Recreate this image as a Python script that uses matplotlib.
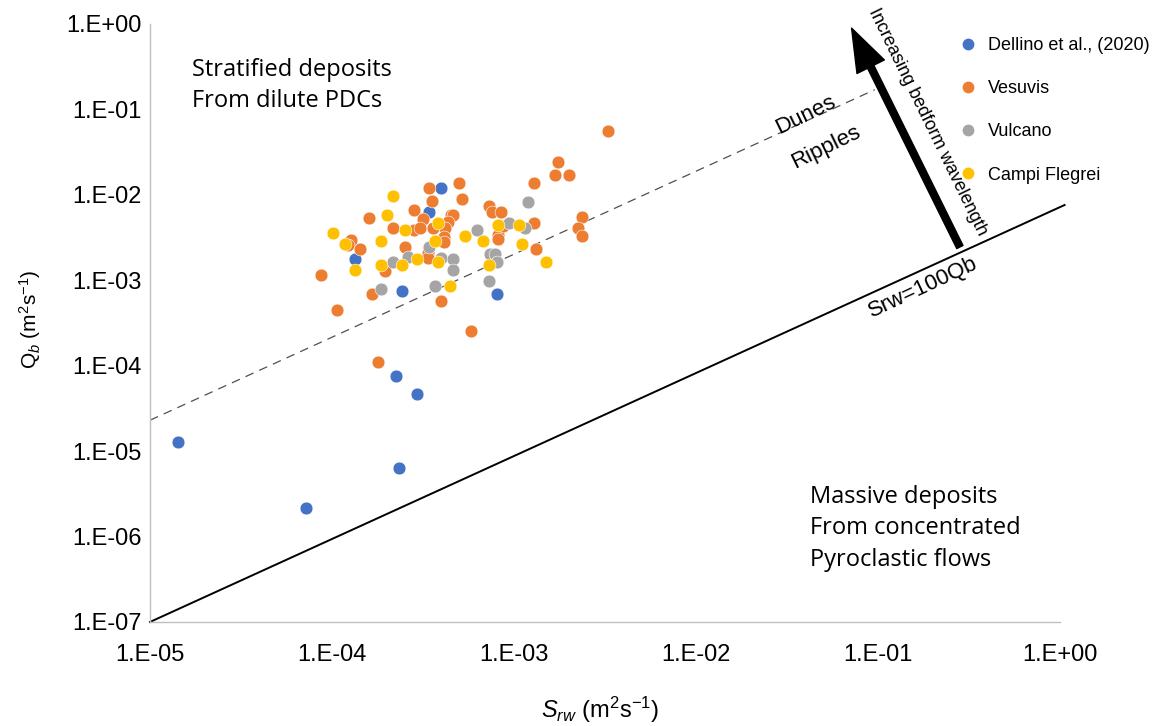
import matplotlib
matplotlib.use("Agg")
import matplotlib.pyplot as plt
from matplotlib.lines import Line2D

plt.rcParams["font.family"] = ["Liberation Sans", "DejaVu Sans"]
plt.rcParams["mathtext.fontset"] = "custom"
plt.rcParams["mathtext.rm"] = "Liberation Sans"
plt.rcParams["mathtext.it"] = "Liberation Sans:italic"

# data (Srw, Qb in m2 s-1)
dellino_srw = [3.97e-4, 3.43e-4, 1.33e-4, 2.43e-4, 8.1e-4, 2.25e-4, 2.92e-4, 1.42e-5, 2.34e-4, 7.2e-5]
dellino_qb = [1.20e-2, 6.37e-3, 1.78e-3, 7.5e-4, 6.98e-4, 7.6e-5, 4.63e-5, 1.28e-5, 6.3e-6, 2.18e-6]

vesuvis_srw = [3.30e-3, 1.74e-3, 1.68e-3, 2.01e-3, 1.29e-3, 4.99e-4, 3.41e-4, 5.18e-4, 3.56e-4, 2.83e-4,
               7.26e-4, 7.53e-4, 8.49e-4, 1.60e-4, 4.49e-4, 4.63e-4, 3.18e-4, 4.32e-4, 2.36e-3, 1.28e-3,
               2.17e-4, 2.83e-4, 3.05e-4, 3.61e-4, 4.18e-4, 4.14e-4, 4.14e-4, 2.26e-3, 2.36e-3, 8.20e-4,
               8.20e-4, 1.27e-4, 1.22e-4, 1.43e-4, 2.52e-4, 3.38e-4, 3.38e-4, 1.32e-3, 1.95e-4, 8.71e-5,
               1.66e-4, 3.97e-4, 1.06e-4, 5.81e-4, 1.79e-4, 8.73e-4]
vesuvis_qb = [5.66e-2, 2.43e-2, 1.70e-2, 1.70e-2, 1.38e-2, 1.38e-2, 1.20e-2, 8.97e-3, 8.43e-3, 6.73e-3,
              7.30e-3, 6.37e-3, 6.37e-3, 5.42e-3, 5.83e-3, 5.83e-3, 5.19e-3, 4.86e-3, 5.48e-3, 4.74e-3,
              4.07e-3, 3.89e-3, 4.07e-3, 4.07e-3, 4.07e-3, 3.25e-3, 2.84e-3, 4.14e-3, 3.31e-3, 3.40e-3,
              3.03e-3, 2.97e-3, 2.60e-3, 2.33e-3, 2.48e-3, 2.07e-3, 1.82e-3, 2.33e-3, 1.30e-3, 1.14e-3,
              6.93e-4, 5.64e-4, 4.54e-4, 2.55e-4, 1.09e-4, 4.34e-3]

vulcano_srw = [1.19e-3, 9.42e-4, 1.15e-3, 6.27e-4, 3.41e-4, 2.17e-4, 2.60e-4, 3.97e-4, 4.62e-4, 4.62e-4,
               7.38e-4, 7.87e-4, 8.1e-4, 7.29e-4, 1.87e-4, 3.68e-4]
vulcano_qb = [8.35e-3, 4.74e-3, 4.07e-3, 3.86e-3, 2.48e-3, 1.63e-3, 1.89e-3, 1.82e-3, 1.78e-3, 1.32e-3,
              2.02e-3, 2.02e-3, 1.63e-3, 9.9e-4, 8.0e-4, 8.67e-4]

campi_srw = [2.17e-4, 2.01e-4, 1.01e-4, 2.52e-4, 3.81e-4, 8.17e-4, 1.06e-3, 1.18e-4, 1.86e-4, 3.68e-4,
             5.36e-4, 6.73e-4, 1.10e-3, 1.33e-4, 1.86e-4, 2.43e-4, 2.93e-4, 3.82e-4, 7.29e-4, 1.49e-3,
             4.44e-4]
campi_qb = [9.66e-3, 5.83e-3, 3.56e-3, 3.86e-3, 4.74e-3, 4.42e-3, 4.42e-3, 2.69e-3, 2.89e-3, 2.89e-3,
            3.33e-3, 2.89e-3, 2.69e-3, 1.32e-3, 1.51e-3, 1.51e-3, 1.77e-3, 1.63e-3, 1.51e-3, 1.63e-3,
            8.59e-4]

# regime boundaries
dune_line_srw = [1e-5, 9.6e-2]
dune_line_qb = [2.3e-5, 1.7e-1]
massive_line_srw = [1e-5, 1.06]
massive_line_qb = [1e-7, 7.6e-3]

series = [
    ("Dellino et al., (2020)", dellino_srw, dellino_qb, "#4472C4"),
    ("Vesuvis", vesuvis_srw, vesuvis_qb, "#ED7D31"),
    ("Vulcano", vulcano_srw, vulcano_qb, "#A5A5A5"),
    ("Campi Flegrei", campi_srw, campi_qb, "#FFC000"),
]
x_ticks = [1e-5, 1e-4, 1e-3, 1e-2, 1e-1, 1e0]
x_labels = ["1.E-05", "1.E-04", "1.E-03", "1.E-02", "1.E-01", "1.E+00"]
y_ticks = [1e-7, 1e-6, 1e-5, 1e-4, 1e-3, 1e-2, 1e-1, 1e0]
y_labels = ["1.E-07", "1.E-06", "1.E-05", "1.E-04", "1.E-03", "1.E-02", "1.E-01", "1.E+00"]

fig = plt.figure(figsize=(11.62, 7.26), dpi=100)
ax = fig.add_axes([0.1291, 0.1433, 0.7831, 0.8237])
ax.set_xscale("log")
ax.set_yscale("log")
ax.set_xlim(1e-5, 1e0)
ax.set_ylim(1e-7, 1e0)

ax.plot(dune_line_srw, dune_line_qb, color="#505050", lw=0.9, dashes=(7, 5), zorder=2)
ax.plot(massive_line_srw, massive_line_qb, color="black", lw=1.4, clip_on=False, zorder=2)

handles = []
for name, xs, ys, col in series:
    ax.scatter(xs, ys, s=85, color=col, edgecolors="white", linewidths=0.4, zorder=3)
    handles.append(Line2D([], [], marker="o", ls="none", markersize=9.5,
                          markerfacecolor=col, markeredgecolor="white", label=name))

ax.set_xticks(x_ticks)
ax.set_xticklabels(x_labels)
ax.set_yticks(y_ticks)
ax.set_yticklabels(y_labels)
ax.minorticks_off()
ax.tick_params(axis="both", length=0, labelsize=17)
ax.tick_params(axis="x", pad=16)
ax.tick_params(axis="y", pad=6)
for side in ("top", "right"):
    ax.spines[side].set_visible(False)
for side in ("left", "bottom"):
    ax.spines[side].set_color("#BFBFBF")
    ax.spines[side].set_linewidth(1.0)

fig.text(0.026, 0.56, r"Q$_b$ (m$^2$s$^{-1}$)", rotation=90, ha="center", va="center", fontsize=15)
fig.text(0.516, 0.022, r"$S_{rw}$ (m$^2$s$^{-1}$)", ha="center", va="center", fontsize=17)

region_font = ["Open Sans", "DejaVu Sans"]
ax.text(0.046, 0.897, "Stratified deposits\nFrom dilute PDCs", transform=ax.transAxes,
        ha="left", va="center", fontsize=17, family=region_font, linespacing=1.42)
ax.text(0.725, 0.157, "Massive deposits\nFrom concentrated\nPyroclastic flows",
        transform=ax.transAxes, ha="left", va="center", fontsize=17, family=region_font,
        linespacing=1.42)

ax.text(0.721, 0.848, "Dunes", transform=ax.transAxes, ha="center", va="center",
        fontsize=16, rotation=26)
ax.text(0.743, 0.793, "Ripples", transform=ax.transAxes, ha="center", va="center",
        fontsize=16, rotation=26)
ax.text(0.850, 0.560, "Srw=100Qb", transform=ax.transAxes, ha="center", va="center",
        fontsize=16, rotation=25)

ax.annotate("", xy=(0.771, 0.993), xytext=(0.890, 0.627), xycoords="axes fraction",
            textcoords="axes fraction",
            arrowprops=dict(arrowstyle="simple,head_length=1.55,head_width=1.1,tail_width=0.25",
                            mutation_scale=20, color="black", shrinkA=0, shrinkB=0),
            annotation_clip=False)
ax.text(0.854, 0.836, "Increasing bedform wavelength", transform=ax.transAxes,
        ha="center", va="center", fontsize=13, rotation=-64)

ax.legend(handles=handles, loc="upper left", bbox_to_anchor=(0.889, 0.978), frameon=False,
          fontsize=13, handlelength=1.0, handletextpad=0.61, labelspacing=1.45, borderpad=0,
          borderaxespad=0)

fig.savefig("out.png", dpi=100)
